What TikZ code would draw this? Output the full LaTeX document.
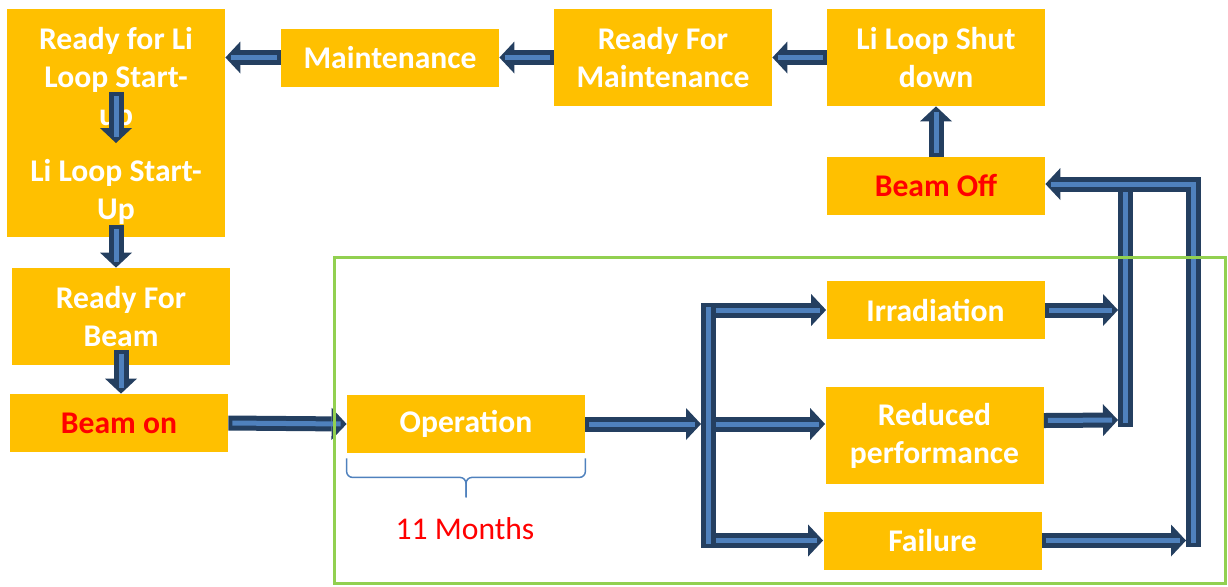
\documentclass[tikz,border=0pt]{standalone}
\usepackage{fontspec}
\setmainfont{Carlito}
\usepackage{tikz}
\usetikzlibrary{positioning,calc,arrows.meta}
\definecolor{BoxGold}{RGB}{255,192,0}
\definecolor{ArrowNavy}{RGB}{36,63,96}
\definecolor{ArrowBlue}{RGB}{79,129,189}
\definecolor{FrameGreen}{RGB}{146,208,80}
\tikzset{
    stagebox/.style={rectangle, fill=BoxGold, text=white, font=\fontsize{15.8}{19}\selectfont\bfseries, align=center, inner sep=0pt, minimum width=109pt, minimum height=29pt},
    tallbox/.style={stagebox, minimum height=48.5pt},
    stagetext/.style={text=white, font=\fontsize{15.8}{19}\selectfont\bfseries, align=center, inner sep=0pt},
    flowbar/.style={draw=ArrowNavy, line width=7.5pt, postaction={draw=ArrowBlue, line width=2.5pt, shorten <=2pt, shorten >=2pt}},
    flowarrow/.style={draw=ArrowNavy, line width=7.5pt, -{Triangle[length=7.5pt,width=16pt,line width=0pt]}, postaction={draw=ArrowBlue, line width=2.5pt, -, shorten <=2pt, shorten >=3pt}}
}
\begin{document}
\begin{tikzpicture}[x=0.5pt, y=-0.5pt,
                % note for the time span under Operation
                spanlabel/.style={text=red, font=\fontsize{15.8}{19}\selectfont},
                bracepath/.style={draw=ArrowBlue, line width=0.75pt, rounded corners=3pt}
            ]
    \useasboundingbox (0,0) rectangle (1228,586);

    % --- BOXES ---
    % Left column: start-up block holds two steps
    \node[stagebox, minimum height=114pt] (startbox) at (116,123) {};
    \node[stagetext] (readyli) at (116,79) {Ready for Li\\Loop Start-\\up};
    \node[stagetext] (listart) at (116,192) {Li Loop Start-\\Up};
    \node[tallbox] (readybeam) at (121,316.5) {Ready For\\Beam};
    \node[stagebox, text=red] (beamon) at (119,423) {Beam on};

    % Top row
    \node[stagebox] (maint) at (390,57.5) {Maintenance};
    \node[tallbox] (readymaint) at (663,57.5) {Ready For\\Maintenance};
    \node[tallbox] (shutdown) at (936,57.5) {Li Loop Shut\\down};
    \node[stagebox, text=red] (beamoff) at (936,186) {Beam Off};

    % Operation phase
    \node[stagebox, minimum width=119pt] (operation) at (466,424) {Operation};
    \node[stagebox] (irrad) at (935.5,310) {Irradiation};
    \node[tallbox] (reduced) at (934.5,435.5) {Reduced\\performance};
    \node[stagebox] (failure) at (932.5,540.5) {Failure};
    \node[spanlabel] (months) at (465,529) {11 Months};

    % --- ARROWS ---
    % top row, right to left
    \draw[flowarrow] (maint.west) -- (startbox.east |- maint.west);
    \draw[flowarrow] (readymaint.west) -- (maint.east);
    \draw[flowarrow] (shutdown.west) -- (readymaint.east);
    \draw[flowarrow] (beamoff.north) -- (shutdown.south);

    % left column, downwards
    \draw[flowarrow] ($(readyli.center)+(0,13)$) -- ($(listart.north)+(0,-16)$);
    \draw[flowarrow] (listart.south) -- (listart.south |- readybeam.north);
    \draw[flowarrow] ($(readybeam.south)+(0,-15)$) -- (readybeam.south |- beamon.north);
    \draw[flowarrow] (beamon.east) -- (operation.west);

    % split into the three outcomes
    \coordinate (split) at (708,424);
    \draw[flowarrow] (operation.east) -- ($(split)+(-7,0)$);
    \draw[flowarrow] (split |- irrad.west) -- (irrad.west);
    \draw[flowarrow] (split) -- (split -| reduced.west);
    \draw[flowarrow] (split |- failure.west) -- (failure.west);
    \draw[flowbar] ($(split |- irrad.west)+(0,-7)$) -- ($(split |- failure.west)+(0,7)$);

    % merge back to Beam Off
    \coordinate (midtop) at (1125,184);
    \coordinate (midlow) at (1125,427);
    \coordinate (outtop) at (1193,184);
    \coordinate (outlow) at (1193,547);
    \draw[flowarrow] (irrad.east) -- ($(midtop |- irrad.east)+(-7,0)$);
    \draw[flowarrow] ($(reduced.east)+(0,-15)$) -- ($(midlow)+(-7,-7)$);
    \draw[flowbar] (midlow) -- (midtop);
    \draw[flowarrow] (failure.east) -- ($(outlow |- failure.east)+(-7,0)$);
    \draw[flowarrow] (outlow) -- (outtop) -- (outtop -| beamoff.east);

    % --- OPERATION FRAME AND SPAN ---
    \draw[FrameGreen, line width=1.5pt] (334,257) rectangle (1225,583);
    \draw[bracepath] ($(operation.south west)+(0,5)$) |- ($(operation.south)+(0,24)$) -- ++(0,20);
    \draw[bracepath] ($(operation.south east)+(0,5)$) |- ($(operation.south)+(0,24)$) -- ++(0,20);
\end{tikzpicture}
\end{document}
